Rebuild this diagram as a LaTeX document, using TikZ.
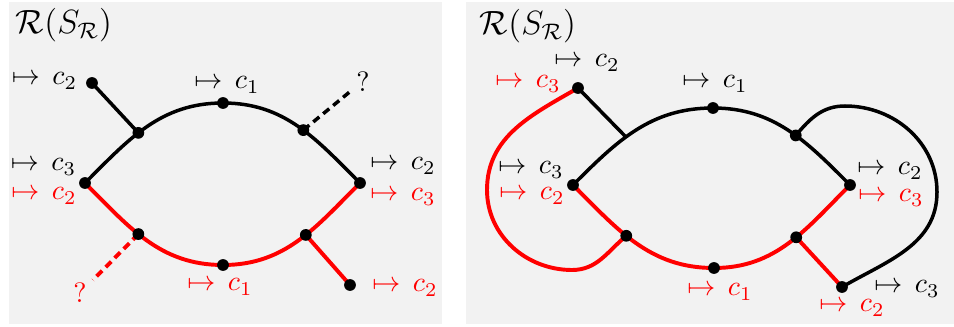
\documentclass[tikz,border=0pt]{standalone}
\begin{document}
\begin{tikzpicture}[x=0.357pt,y=0.357pt,
  dot/.style={circle,fill=black,inner sep=0pt,minimum size=4.2pt},
  blk/.style={black,line width=1.25pt},
  rd/.style={red,line width=1.4pt},
  dsh/.style={dash pattern=on 2.8pt off 1.8pt},
  lbl/.style={inner sep=0pt},
  rl/.style={lbl,text=red}]
\useasboundingbox (0,0) rectangle (954,-327);
\fill[gray!10] (9,-2) rectangle (442,-324);
\fill[gray!10] (466,-2) rectangle (954,-324);
% ---------------- left panel
\node[lbl] (t1) at (64,-25) {\large$\mathcal{R}(S_{\mathcal{R}})$};
\coordinate (F) at (85,-183);
\coordinate (C) at (223,-103);
\coordinate (E) at (360,-183);
\coordinate (H) at (223,-265);
\coordinate (A) at (92,-83);
\coordinate (J) at (350,-285);
\coordinate (Q1) at (352,-90);
\coordinate (Q2) at (93,-280);
\draw[blk] (F) to[out=45,in=180] coordinate[pos=0.43] (B) (C)
  to[out=0,in=135] coordinate[pos=0.54] (D) (E);
\draw[rd] (F) to[out=-45,in=180] coordinate[pos=0.43] (G) (H)
  to[out=0,in=-135] coordinate[pos=0.56] (I) (E);
\draw[blk] (A) -- (B);
\draw[blk,dsh] (D) -- (Q1);
\draw[rd] (I) -- (J);
\draw[rd,dsh] (G) -- (Q2);
\foreach \p in {F,C,E,H,A,J,B,D,G,I} \node[dot] (d\p) at (\p) {};
\node[lbl] (l1) at (44.5,-81) {$\mapsto\, c_2$};
\node[lbl] (l2) at (227,-85) {$\mapsto\, c_1$};
\node[lbl] (l3) at (363,-82) {$?$};
\node[lbl] (l4) at (43.5,-167) {$\mapsto\, c_3$};
\node[rl] (l5) at (44,-196) {$\mapsto\, c_2$};
\node[lbl] (l6) at (403,-166) {$\mapsto\, c_2$};
\node[rl] (l7) at (403,-197) {$\mapsto\, c_3$};
\node[rl] (l8) at (80,-293) {$?$};
\node[rl] (l9) at (220,-287) {$\mapsto\, c_1$};
\node[rl] (l10) at (405,-288) {$\mapsto\, c_2$};
% ---------------- right panel
\node[lbl] (t2) at (528,-26) {\large$\mathcal{R}(S_{\mathcal{R}})$};
\coordinate (F2) at (573,-185);
\coordinate (C2) at (713,-108);
\coordinate (E2) at (850,-185);
\coordinate (H2) at (714,-268);
\coordinate (A2) at (578,-88);
\coordinate (J2) at (842,-287);
\coordinate (T2) at (845,-106);
\coordinate (R2) at (937,-192);
\coordinate (L2) at (487,-190);
\coordinate (B2) at (572,-270);
\draw[blk] (F2) to[out=45,in=180] coordinate[pos=0.42] (K2) (C2)
  to[out=0,in=135] coordinate[pos=0.56] (D2) (E2);
\draw[rd] (F2) to[out=-45,in=180] coordinate[pos=0.42] (G2) (H2)
  to[out=0,in=-135] coordinate[pos=0.56] (I2) (E2);
\draw[blk] (A2) -- (K2);
\draw[rd] (I2) -- (J2);
\draw[blk] (D2) to[out=50,in=180] (T2) to[out=0,in=90] (R2) to[out=-90,in=30] (J2);
\draw[rd] (A2) to[out=210,in=90] (L2) to[out=-90,in=180] (B2) to[out=0,in=220] (G2);
\foreach \p in {F2,C2,E2,H2,A2,J2,D2,G2,I2} \node[dot] (d\p) at (\p) {};
\node[lbl] (m1) at (587,-63) {$\mapsto\, c_2$};
\node[rl] (m2) at (528,-84) {$\mapsto\, c_3$};
\node[lbl] (m3) at (715,-84) {$\mapsto\, c_1$};
\node[lbl] (m4) at (531,-170) {$\mapsto\, c_3$};
\node[rl] (m5) at (532,-196) {$\mapsto\, c_2$};
\node[lbl] (m6) at (890,-171) {$\mapsto\, c_2$};
\node[rl] (m7) at (891,-198) {$\mapsto\, c_3$};
\node[rl] (m8) at (720,-292) {$\mapsto\, c_1$};
\node[lbl] (m9) at (907,-289) {$\mapsto\, c_3$};
\node[rl] (m10) at (852,-308) {$\mapsto\, c_2$};
\end{tikzpicture}
\end{document}
